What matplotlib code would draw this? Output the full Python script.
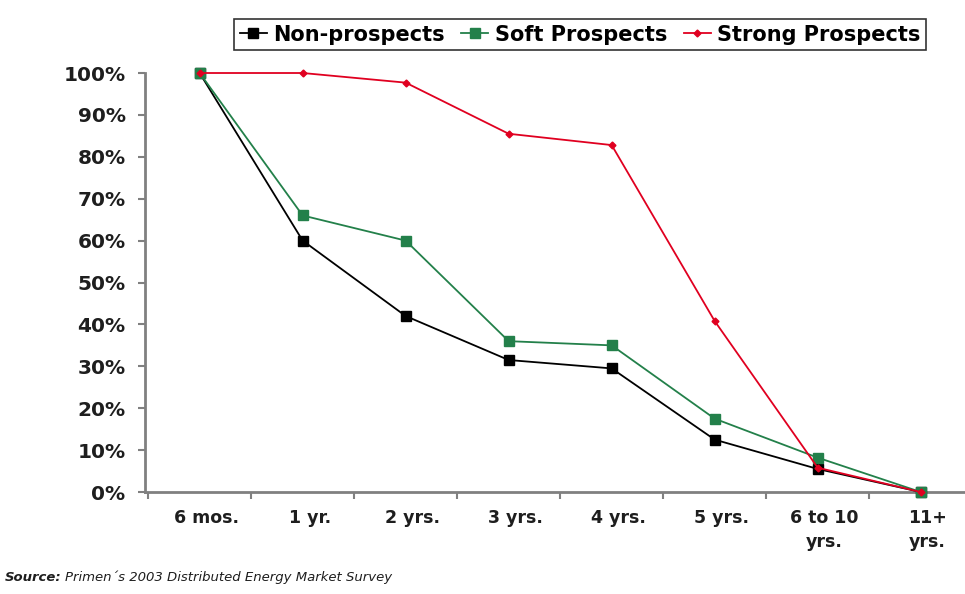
import numpy as np
import matplotlib.pyplot as plt
import matplotlib.transforms as mtransforms
from matplotlib import font_manager

# survey data: share still considering purchase, by time horizon
periods = ['6 mos.', '1 yr.', '2 yrs.', '3 yrs.', '4 yrs.', '5 yrs.', '6 to 10\nyrs.', '11+\nyrs.']
non_prospects = [100, 60, 42, 31.5, 29.5, 12.5, 5.5, 0]
soft_prospects = [100, 66, 60, 36, 35, 17.5, 8.2, 0]
strong_prospects = [100, 100, 97.7, 85.5, 82.8, 40.8, 5.8, 0]

axis_grey = '#808080'
text_col = '#1e1e1e'

# narrow face for the footnote if available
names = {f.name for f in font_manager.fontManager.ttflist}
narrow = 'Liberation Sans Narrow' if 'Liberation Sans Narrow' in names else 'DejaVu Sans'

fig = plt.figure(figsize=(9.65, 5.94), dpi=100)
ax = fig.add_axes([0.1503, 0.1717, 0.8497, 0.7054])

x = np.arange(len(periods))
ax.plot(x, non_prospects, color='black', lw=1.3, marker='s', ms=6.5,
        label='Non-prospects', clip_on=False, zorder=3)
ax.plot(x, soft_prospects, color='#23804a', lw=1.3, marker='s', ms=6.5,
        label='Soft Prospects', clip_on=False, zorder=3)
ax.plot(x, strong_prospects, color='#e00020', lw=1.3, marker='D', ms=3.5,
        label='Strong Prospects', clip_on=False, zorder=4)

ax.set_xlim(-0.53, 7.43)
ax.set_ylim(0, 100)

# y axis: percent labels
ax.set_yticks(np.arange(0, 101, 10))
ax.set_yticklabels([f'{v}%' for v in range(0, 101, 10)],
                   fontsize=14.5, fontweight='heavy', color=text_col)
ax.tick_params(axis='y', direction='out', length=5, width=1.5,
               color=axis_grey, pad=9)

# x axis: category labels between boundary ticks
ax.set_xticks(x)
ax.set_xticklabels(periods, fontsize=12.5, fontweight='bold',
                   color=text_col, va='top', linespacing=1.45)
ax.set_xticks(np.arange(-0.5, 7.0, 1.0), minor=True)
ax.tick_params(axis='x', which='major', length=0, pad=12)
ax.tick_params(axis='x', which='minor', direction='out', length=5,
               width=1.5, color=axis_grey)
shift = mtransforms.ScaledTranslation(7 / 100, 0, fig.dpi_scale_trans)
for lbl in ax.get_xticklabels():
    lbl.set_transform(lbl.get_transform() + shift)

for side in ['top', 'right']:
    ax.spines[side].set_visible(False)
for side in ['left', 'bottom']:
    ax.spines[side].set_color(axis_grey)
    ax.spines[side].set_linewidth(2)

leg = fig.legend(loc='upper center', bbox_to_anchor=(0.601, 0.985), ncol=3,
                 frameon=True, fancybox=False, edgecolor='black',
                 handlelength=1.3, handletextpad=0.3, columnspacing=0.8,
                 borderpad=0.25, prop={'weight': 'bold', 'size': 15})
leg.get_frame().set_linewidth(1.2)

src = fig.text(0.005, 0.028, 'Source:', fontsize=9.5, style='italic',
               fontweight='bold', family=narrow, color=text_col, va='center')
fig.canvas.draw()
bb = src.get_window_extent()
fig.text(bb.x1 / fig.bbox.width + 0.004, 0.028,
         'Primen\u00b4s 2003 Distributed Energy Market Survey',
         fontsize=9.5, style='italic', family=narrow, color=text_col, va='center')

plt.savefig('out.png', dpi=100)
